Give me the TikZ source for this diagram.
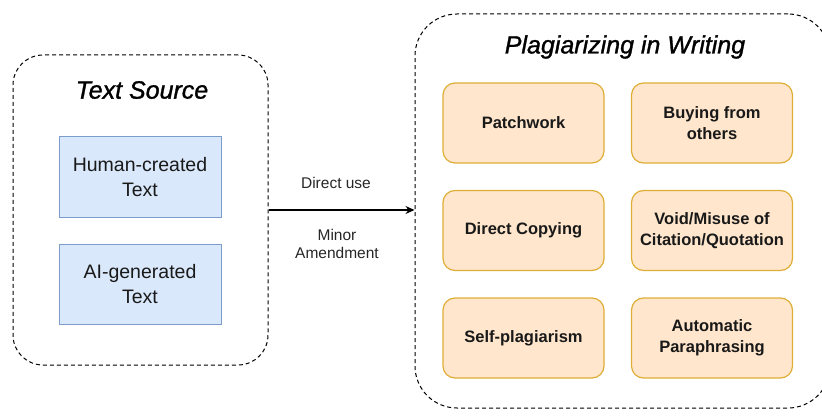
\documentclass[tikz,border=0pt]{standalone}
\usepackage{fontspec}
\setmainfont{Liberation Sans}
\newfontfamily\titlefont[ItalicFeatures={FakeBold=1.2}]{Liberation Sans}
\usetikzlibrary{arrows.meta}

\definecolor{srcfill}{HTML}{DAE8FC}
\definecolor{srcline}{HTML}{7C9CCB}
\definecolor{kindfill}{HTML}{FFE6CC}
\definecolor{kindline}{HTML}{DEAE36}

\tikzset{
  group/.style={draw, line width=1pt, dash pattern=on 4pt off 3pt},
  grouptitle/.style={font=\fontsize{25}{30}\titlefont\itshape},
  srcbox/.style={draw=srcline, fill=srcfill, line width=1pt,
    minimum width=162pt, minimum height=80pt, align=center,
    font=\fontsize{19.5}{25}\selectfont, text=black!90},
  kindbox/.style={draw=kindline, fill=kindfill, line width=1.2pt, rounded corners=12pt,
    minimum width=161pt, minimum height=80pt, align=center,
    font=\fontsize{16.5}{21}\selectfont\bfseries, text=black!90},
  flowlabel/.style={align=center, font=\fontsize{15.5}{18}\selectfont, text=black!85},
}

\begin{document}
\begin{tikzpicture}[x=1pt, y=-1pt]
    \useasboundingbox (0,0) rectangle (822,417);

    % Containers
    \node[group, rounded corners=30pt, minimum width=255pt, minimum height=310pt] (src) at (140.5,210) {};
    \node[group, rounded corners=42pt, minimum width=415pt, minimum height=394pt] (plag) at (622.5,211) {};

    % Titles
    \node[grouptitle] (srctitle) at (142,90) {Text Source};
    \node[grouptitle] (plagtitle) at (625,47) {Plagiarizing in Writing};

    % Text sources
    \node[srcbox] (human) at (140,177) {Human-created\\Text};
    \node[srcbox] (ai) at (140,284) {AI-generated\\Text};

    % Kinds of plagiarism
    \node[kindbox] (patch) at (523.5,123) {Patchwork};
    \node[kindbox] (buy) at (712,123) {Buying from\\others};
    \node[kindbox] (copy) at (523.5,230.5) {Direct Copying};
    \node[kindbox] (cite) at (712,230.5) {Void/Misuse of\\Citation/Quotation};
    \node[kindbox] (self) at (523.5,338) {Self-plagiarism};
    \node[kindbox] (para) at (712,338) {Automatic\\Paraphrasing};

    % Arrow with labels
    \draw[line width=1.2pt, -{Stealth[length=9pt, width=8pt]}] (src.east) -- (plag.west |- src.east);
    \node[flowlabel] (use) at (336,183) {Direct use};
    \node[flowlabel] (amend) at (337,244) {Minor\\Amendment};
\end{tikzpicture}
\end{document}
